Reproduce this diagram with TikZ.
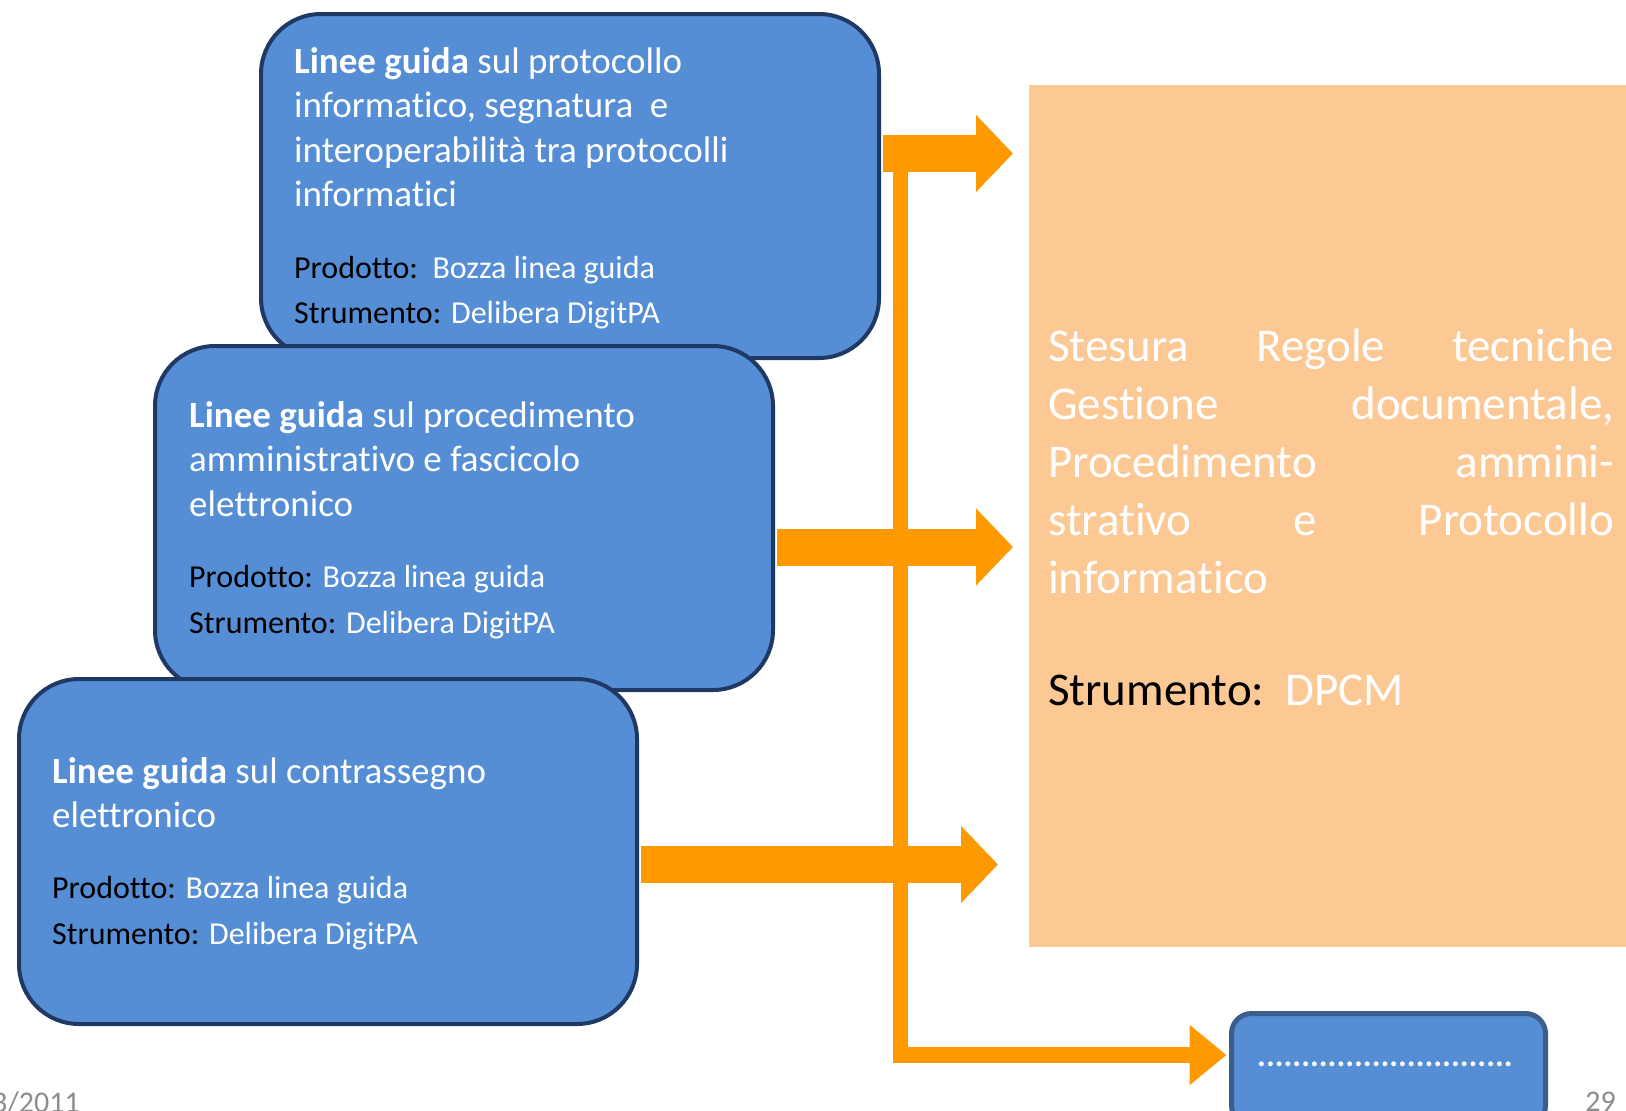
\documentclass[tikz,border=0pt]{standalone}
\usepackage{fontspec}
\setmainfont{Carlito}[Ligatures=NoCommon]
\usetikzlibrary{arrows.meta}
\definecolor{boxblue}{HTML}{558ED5}
\definecolor{boxline}{HTML}{1F3864}
\definecolor{sbline}{HTML}{3B5E8C}
\definecolor{arrorange}{HTML}{FF9900}
\definecolor{peach}{HTML}{FCC995}
\definecolor{footgrey}{HTML}{8C8C8C}
\tikzset{
  bluebox/.style={draw=boxline, line width=4pt, fill=boxblue, rounded corners=60pt, anchor=north west, inner sep=0pt},
  bigtxt/.style={font=\fontsize{37}{44}\selectfont, text=white, anchor=base west, inner sep=0pt},
  smalltxt/.style={font=\fontsize{32}{38}\selectfont, text=white, anchor=base west, inner sep=0pt},
  peachtxt/.style={font=\fontsize{47}{57}\selectfont, text=white, anchor=base west, inner sep=0pt},
  foottxt/.style={font=\fontsize{30}{36}\selectfont, text=footgrey, anchor=base east, inner sep=0pt},
  bigarrow/.style={draw=arrorange, line width=37pt, -{Triangle[length=37pt,width=75pt]}},
  thinarrow/.style={draw=arrorange, line width=15.5pt, line join=miter, -{Triangle[length=37pt,width=58pt]}}
}
\begin{document}
\begin{tikzpicture}[x=1pt,y=-1pt]
\useasboundingbox (0,0) rectangle (1626,1111);
\clip (0,0) rectangle (1626,1111);

% orange box
\node[fill=peach, anchor=north west, minimum width=620pt, minimum height=862pt, inner sep=0pt] (ob) at (1029,85) {};
\node[peachtxt] (o1) at (1048,361) {\makebox[566pt][s]{Stesura Regole tecniche}};
\node[peachtxt] (o2) at (1048,419) {\makebox[566pt][s]{Gestione documentale,}};
\node[peachtxt] (o3) at (1048,477) {\makebox[566pt][s]{Procedimento ammini-}};
\node[peachtxt] (o4) at (1048,535) {\makebox[566pt][s]{strativo e Protocollo}};
\node[peachtxt] (o5) at (1048,593) {informatico};
\node[peachtxt] (o6) at (1048,705) {{\color{black}Strumento:}\ \ DPCM};

% box 1
\node[bluebox, minimum width=618pt, minimum height=344pt] (b1) at (259,12) {};
\node[bigtxt] (b1t1) at (294,73) {\textbf{Linee guida} sul protocollo};
\node[bigtxt] (b1t2) at (294,117.5) {informatico, segnatura\ \ e};
\node[bigtxt] (b1t3) at (294,162) {interoperabilità tra protocolli};
\node[bigtxt] (b1t4) at (294,206.5) {informatici};
\node[smalltxt] (b1p) at (294,278) {{\color{black}Prodotto:}\ \ Bozza linea guida};
\node[smalltxt] (b1s) at (294,323) {{\color{black}Strumento:} Delibera DigitPA};

% box 2
\node[bluebox, minimum width=618pt, minimum height=344pt] (b2) at (153,344) {};
\node[bigtxt] (b2t1) at (189,427) {\textbf{Linee guida} sul procedimento};
\node[bigtxt] (b2t2) at (189,471.5) {amministrativo e fascicolo};
\node[bigtxt] (b2t3) at (189,516) {elettronico};
\node[smalltxt] (b2p) at (189,587) {{\color{black}Prodotto:} Bozza linea guida};
\node[smalltxt] (b2s) at (189,633) {{\color{black}Strumento:} Delibera DigitPA};

% box 3
\node[bluebox, minimum width=618pt, minimum height=345pt] (b3) at (17,677) {};
\node[bigtxt] (b3t1) at (52,783) {\textbf{Linee guida} sul contrassegno};
\node[bigtxt] (b3t2) at (52,827) {elettronico};
\node[smalltxt] (b3p) at (52,898) {{\color{black}Prodotto:} Bozza linea guida};
\node[smalltxt] (b3s) at (52,944) {{\color{black}Strumento:} Delibera DigitPA};

% small box
\node[draw=sbline, line width=5pt, fill=boxblue, rounded corners=20pt, anchor=north west, minimum width=314pt, minimum height=112pt, inner sep=0pt] (sb) at (1229,1011) {};
\node[font=\bfseries\fontsize{33}{40}\selectfont, text=white, inner sep=0pt, anchor=base] (sbt) at (1385,1066) {.............................};

% arrows
\coordinate (t1) at (1013,153.5);
\coordinate (t2) at (1013,547);
\coordinate (t3) at (998,864.5);
\coordinate (ytop) at (900.5,160);
\coordinate (y4) at (0,1055);
\draw[thinarrow] (ytop) -- (ytop |- y4) -- ([xshift=-2.5pt]sb.west |- y4);
\draw[bigarrow] ([xshift=2pt]t1 -| b1.east) -- (t1);
\draw[bigarrow] ([xshift=2pt]t2 -| b2.east) -- (t2);
\draw[bigarrow] ([xshift=2pt]t3 -| b3.east) -- (t3);

% footer
\node[foottxt] (f1) at (80,1112) {3/2011};
\node[foottxt] (f2) at (1616,1111) {29};
\end{tikzpicture}
\end{document}
